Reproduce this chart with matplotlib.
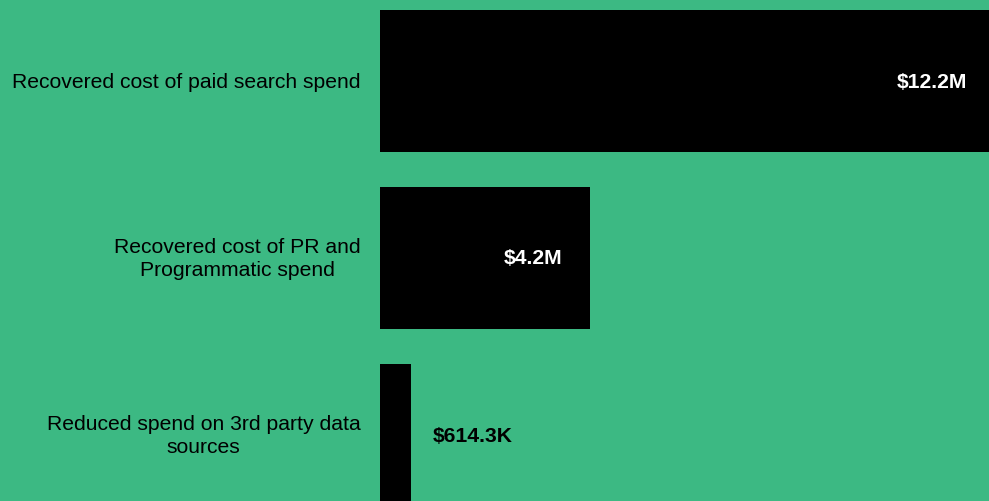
import matplotlib
matplotlib.use("Agg")
import matplotlib.pyplot as plt

plt.rcParams['font.family'] = ['Liberation Sans', 'DejaVu Sans']

categories = ['Recovered cost of paid search spend',
              'Recovered cost of PR and\nProgrammatic spend',
              'Reduced spend on 3rd party data\nsources']
values = [12.2e6, 4.2e6, 614.3e3]
value_labels = ['$12.2M', '$4.2M', '$614.3K']

bg = '#3cb983'

fig = plt.figure(figsize=(9.89, 5.02), dpi=100, facecolor=bg)
ax = fig.add_axes([380 / 989, 0, 609 / 989, 1])
ax.set_facecolor(bg)

y = list(range(len(categories)))
ax.barh(y, values, height=0.8, color='black')
ax.set_xlim(0, 12.2e6)
ax.set_ylim(2 + 66 / 177, -82 / 177)

ax.set_yticks(y)
ax.set_yticklabels(categories, fontsize=15.2, ha='right', va='center',
                   multialignment='center', linespacing=1.3)
ax.tick_params(axis='y', length=0, pad=14)
ax.set_xticks([])
for s in ax.spines.values():
    s.set_visible(False)

for i, v in enumerate(values):
    if v > 2e6:
        ax.annotate(value_labels[i], (v, i), xytext=(-41, 0), textcoords='offset points',
                    ha='center', va='center', color='white', fontsize=15.2, fontweight='bold')
    else:
        ax.annotate(value_labels[i], (v, i), xytext=(45, 0), textcoords='offset points',
                    ha='center', va='center', color='black', fontsize=15.2, fontweight='bold')

fig.savefig('out.png', dpi=100, facecolor=bg)
